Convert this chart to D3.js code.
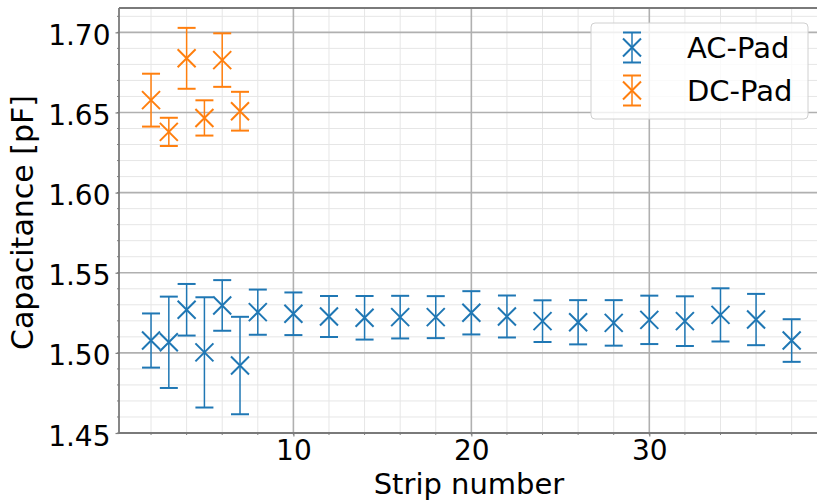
<!DOCTYPE html>
<html>
<head>
<meta charset="utf-8">
<script src="https://cdn.jsdelivr.net/npm/d3@7"></script>
<style>
  body { margin: 0; background: #fff; }
  text { font-family: "DejaVu Sans", sans-serif; fill: #000; }
</style>
</head>
<body>
<script>
// Chart dimension
const width = 817;
const height = 500;
const plotLeft = 119, plotRight = 823.7, plotTop = 8, plotBottom = 433;

// Data
const acStrips = [2, 3, 4, 5, 6, 7, 8, 10, 12, 14, 16, 18, 20, 22, 24, 26, 28, 30, 32, 34, 36, 38];
const acCap = [1.5077, 1.5066, 1.5269, 1.5003, 1.5296, 1.4921, 1.5254, 1.5244, 1.5227, 1.5219, 1.5223,
               1.5223, 1.5250, 1.5227, 1.5198, 1.5191, 1.5187, 1.5206, 1.5198, 1.5237, 1.5208, 1.5077];
const acErr = [0.0169, 0.0285, 0.0161, 0.0344, 0.0158, 0.0304, 0.0141, 0.0133, 0.0128, 0.0136, 0.0133,
               0.0131, 0.0135, 0.0131, 0.0130, 0.0138, 0.0142, 0.0151, 0.0155, 0.0166, 0.0160, 0.0133];

const dcStrips = [2, 3, 4, 5, 6, 7];
const dcCap = [1.6577, 1.6379, 1.6838, 1.6466, 1.6827, 1.6508];
const dcErr = [0.0165, 0.0088, 0.0190, 0.0110, 0.0167, 0.0121];

const xTicks = [10, 20, 30];
const yTicks = [1.45, 1.50, 1.55, 1.60, 1.65, 1.70];
const xMinor = d3.range(2, 40, 2);
const yMinor = d3.range(145, 172).map(v => v / 100);

const series = [
    { name: "AC-Pad", color: "#1f77b4", x: acStrips, y: acCap, e: acErr },
    { name: "DC-Pad", color: "#ff7f0e", x: dcStrips, y: dcCap, e: dcErr }
];

const svg = d3.select("body")
    .append("svg")
    .attr("width", width)
    .attr("height", height);

// Scales
const x = d3.scaleLinear().domain([0.2, 39.8]).range([plotLeft, plotRight]);
const y = d3.scaleLinear().domain([1.45, 1.7152]).range([plotBottom, plotTop]);

// Minor grid
svg.append("g").selectAll("line")
    .data(xMinor.filter(v => !xTicks.includes(v)))
    .enter().append("line")
    .attr("x1", d => x(d)).attr("x2", d => x(d))
    .attr("y1", plotTop).attr("y2", plotBottom)
    .attr("stroke", "#e6e6e6").attr("stroke-width", 1);

svg.append("g").selectAll("line")
    .data(yMinor.filter(v => Math.round(v * 100) % 5 !== 0))
    .enter().append("line")
    .attr("x1", plotLeft).attr("x2", plotRight)
    .attr("y1", d => y(d)).attr("y2", d => y(d))
    .attr("stroke", "#e6e6e6").attr("stroke-width", 1);

// Major grid
svg.append("g").selectAll("line")
    .data(xTicks)
    .enter().append("line")
    .attr("x1", d => x(d)).attr("x2", d => x(d))
    .attr("y1", plotTop).attr("y2", plotBottom)
    .attr("stroke", "#b0b0b0").attr("stroke-width", 1.6);

svg.append("g").selectAll("line")
    .data(yTicks)
    .enter().append("line")
    .attr("x1", plotLeft).attr("x2", plotRight)
    .attr("y1", d => y(d)).attr("y2", d => y(d))
    .attr("stroke", "#b0b0b0").attr("stroke-width", 1.6);

// Axes
const xAxis = d3.axisBottom(x).tickValues(xTicks).tickFormat(d3.format("d")).tickSize(3.5).tickSizeOuter(0).tickPadding(5);
const yAxis = d3.axisLeft(y).tickValues(yTicks).tickFormat(d3.format(".2f")).tickSize(3.5).tickSizeOuter(0).tickPadding(5);

const gx = svg.append("g")
    .attr("transform", `translate(0, ${plotBottom})`)
    .call(xAxis);
const gy = svg.append("g")
    .attr("transform", `translate(${plotLeft}, 0)`)
    .call(yAxis);

[gx, gy].forEach(g => {
    g.select(".domain").remove();
    g.selectAll(".tick line").attr("stroke", "#808080").attr("stroke-width", 1.2);
    g.selectAll(".tick text").style("font-size", "28px").style("font-family", "DejaVu Sans");
});
gx.selectAll(".tick text").attr("dy", "0.66em");
gy.selectAll(".tick text").attr("dy", "0.43em");

// Minor tick marks
svg.append("g").selectAll("line")
    .data(xMinor)
    .enter().append("line")
    .attr("x1", d => x(d)).attr("x2", d => x(d))
    .attr("y1", plotBottom).attr("y2", plotBottom + 2)
    .attr("stroke", "#808080");
svg.append("g").selectAll("line")
    .data(yMinor)
    .enter().append("line")
    .attr("x1", plotLeft - 2).attr("x2", plotLeft)
    .attr("y1", d => y(d)).attr("y2", d => y(d))
    .attr("stroke", "#808080");

// Spines
svg.append("line").attr("x1", plotLeft).attr("x2", plotLeft).attr("y1", plotTop).attr("y2", plotBottom)
    .attr("stroke", "#7a7a7a").attr("stroke-width", 1.8);
svg.append("line").attr("x1", plotLeft).attr("x2", plotRight).attr("y1", plotBottom).attr("y2", plotBottom)
    .attr("stroke", "#7a7a7a").attr("stroke-width", 1.8);
svg.append("line").attr("x1", plotLeft).attr("x2", plotRight).attr("y1", plotTop).attr("y2", plotTop)
    .attr("stroke", "#7a7a7a").attr("stroke-width", 1.8);

// Error bars and markers
const cap = 9, mk = 9;
series.forEach(s => {
    const pts = s.x.map((v, i) => ({ x: v, y: s.y[i], e: s.e[i] }));
    const g = svg.append("g");
    g.selectAll(".bar").data(pts).enter().append("line")
        .attr("x1", d => x(d.x)).attr("x2", d => x(d.x))
        .attr("y1", d => y(d.y - d.e)).attr("y2", d => y(d.y + d.e))
        .attr("stroke", s.color).attr("stroke-width", 1.5);
    [-1, 1].forEach(sign => {
        g.selectAll(".cap" + sign).data(pts).enter().append("line")
            .attr("x1", d => x(d.x) - cap).attr("x2", d => x(d.x) + cap)
            .attr("y1", d => y(d.y + sign * d.e)).attr("y2", d => y(d.y + sign * d.e))
            .attr("stroke", s.color).attr("stroke-width", 2);
    });
    g.selectAll(".mk").data(pts).enter().append("path")
        .attr("d", d => {
            const cx = x(d.x), cy = y(d.y);
            return `M${cx - mk},${cy - mk}L${cx + mk},${cy + mk}M${cx - mk},${cy + mk}L${cx + mk},${cy - mk}`;
        })
        .attr("fill", "none").attr("stroke", s.color).attr("stroke-width", 2);
});

// Legend
const legend = svg.append("g");
legend.append("rect")
    .attr("x", 591).attr("y", 23).attr("width", 217).attr("height", 96)
    .attr("rx", 4)
    .attr("fill", "white").attr("fill-opacity", 0.8)
    .attr("stroke", "#d0d0d0").attr("stroke-width", 1);

series.forEach((s, i) => {
    const cy = 47.5 + i * 43, cx = 632;
    const g = legend.append("g");
    g.append("line").attr("x1", cx).attr("x2", cx).attr("y1", cy - 15).attr("y2", cy + 15)
        .attr("stroke", s.color).attr("stroke-width", 1.5);
    [-15, 15].forEach(o => {
        g.append("line").attr("x1", cx - cap).attr("x2", cx + cap).attr("y1", cy + o).attr("y2", cy + o)
            .attr("stroke", s.color).attr("stroke-width", 2);
    });
    g.append("path")
        .attr("d", `M${cx - mk},${cy - mk}L${cx + mk},${cy + mk}M${cx - mk},${cy + mk}L${cx + mk},${cy - mk}`)
        .attr("fill", "none").attr("stroke", s.color).attr("stroke-width", 2);
    g.append("text")
        .attr("x", 687).attr("y", cy + 10.5)
        .style("font-size", "29px")
        .text(s.name);
});

// Axis labels
svg.append("text")
    .attr("x", 469)
    .attr("y", 494)
    .attr("text-anchor", "middle")
    .style("font-size", "29px")
    .text("Strip number");

svg.append("text")
    .attr("transform", "rotate(-90)")
    .attr("x", -222.5)
    .attr("y", 33)
    .attr("text-anchor", "middle")
    .style("font-size", "30px")
    .text("Capacitance [pF]");
</script>
</body>
</html>
